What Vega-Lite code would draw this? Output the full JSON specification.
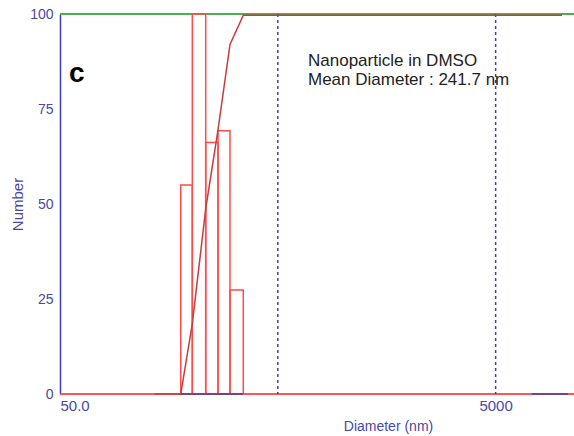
{
  "$schema": "https://vega.github.io/schema/vega-lite/v6.json",
  "width": 514,
  "height": 380,
  "autosize": "none",
  "padding": {"left": 60, "top": 14, "right": 0, "bottom": 42},
  "background": "white",
  "config": {"view": {"stroke": null}, "font": "Liberation Sans"},
  "datasets": {
    "bars": [
      {"lo": 179.2, "hi": 202.5, "n": 55},
      {"lo": 202.5, "hi": 233.3, "n": 100},
      {"lo": 233.3, "hi": 265.7, "n": 66.2},
      {"lo": 265.7, "hi": 301.6, "n": 69.3},
      {"lo": 301.6, "hi": 347.1, "n": 27.4}
    ],
    "cum": [
      {"d": 136, "p": 0},
      {"d": 179.2, "p": 0},
      {"d": 202.5, "p": 18.5},
      {"d": 233.3, "p": 48.7},
      {"d": 265.7, "p": 69.5},
      {"d": 301.6, "p": 92},
      {"d": 347.1, "p": 99.7},
      {"d": 10080, "p": 99.7}
    ],
    "grid": [{"d": 500}, {"d": 5000}],
    "seg": [
      {"d": 179.2, "y": 0, "g": 1},
      {"d": 347.1, "y": 0, "g": 1},
      {"d": 7324, "y": 0, "g": 2},
      {"d": 10745, "y": 0, "g": 2}
    ],
    "notes": [
      {"d": 688, "y": 86.4, "t": "Nanoparticle in DMSO"},
      {"d": 688, "y": 81.2, "t": "Mean Diameter : 241.7 nm"}
    ],
    "tag": [{"d": 55, "y": 82, "t": "c"}]
  },
  "layer": [
    {
      "data": {"name": "grid"},
      "mark": {"type": "rule", "color": "#ff4a4a", "strokeWidth": 1.5},
      "encoding": {
        "y": {
          "datum": 0,
          "type": "quantitative",
          "scale": {"domain": [0, 100], "nice": false, "zero": false},
          "axis": {
            "values": [0, 25, 50, 75, 100],
            "domainColor": "#3c3cb0",
            "domainWidth": 1.5,
            "ticks": false,
            "grid": false,
            "labelColor": "#4848a8",
            "labelFontSize": 14,
            "labelPadding": 7,
            "titleColor": "#4848a8",
            "titleFontSize": 15,
            "titleFontWeight": "normal",
            "titleX": -35,
            "titleY": 190
          },
          "title": "Number"
        }
      }
    },
    {
      "data": {"name": "grid"},
      "mark": {"type": "rule", "color": "#4caf50", "strokeWidth": 2},
      "encoding": {"y": {"datum": 100, "type": "quantitative"}}
    },
    {
      "data": {"name": "grid"},
      "mark": {"type": "rule", "color": "#3c3cb0", "strokeWidth": 1.5, "strokeDash": [3, 3]},
      "encoding": {
        "x": {
          "field": "d",
          "type": "quantitative",
          "scale": {"type": "log", "domain": [50, 11450], "nice": false},
          "axis": {
            "values": [50, 5000],
            "labelExpr": "datum.value == 50 ? '50.0' : '5000'",
            "domain": false,
            "ticks": false,
            "grid": false,
            "labelFlush": true,
            "labelPadding": 4,
            "labelFontSize": 15,
            "labelColor": "#4848a8",
            "titleColor": "#4848a8",
            "titleFontSize": 14,
            "titleFontWeight": "normal",
            "titleX": 328,
            "titleY": 25
          },
          "title": "Diameter (nm)"
        }
      }
    },
    {
      "data": {"name": "bars"},
      "mark": {"type": "rect", "fillOpacity": 0, "fill": "white", "stroke": "#ff4a4a", "strokeWidth": 1.5},
      "encoding": {
        "x": {"field": "lo", "type": "quantitative", "title": "Diameter (nm)"},
        "x2": {"field": "hi"},
        "y": {"field": "n", "type": "quantitative", "title": "Number"},
        "y2": {"datum": 0}
      }
    },
    {
      "data": {"name": "cum"},
      "mark": {"type": "line", "color": "#c83c3c", "strokeWidth": 1.5},
      "encoding": {
        "x": {"field": "d", "type": "quantitative", "title": "Diameter (nm)"},
        "y": {"field": "p", "type": "quantitative", "title": "Number"}
      }
    },
    {
      "data": {"name": "seg"},
      "mark": {"type": "line", "color": "#4040b0", "strokeWidth": 1.5},
      "encoding": {
        "x": {"field": "d", "type": "quantitative", "title": "Diameter (nm)"},
        "y": {"field": "y", "type": "quantitative", "title": "Number"},
        "detail": {"field": "g"}
      }
    },
    {
      "data": {"name": "notes"},
      "mark": {"type": "text", "align": "left", "baseline": "alphabetic", "fontSize": 17, "color": "#222222"},
      "encoding": {
        "x": {"field": "d", "type": "quantitative", "title": "Diameter (nm)"},
        "y": {"field": "y", "type": "quantitative", "title": "Number"},
        "text": {"field": "t"}
      }
    },
    {
      "data": {"name": "tag"},
      "mark": {"type": "text", "align": "left", "baseline": "alphabetic", "fontSize": 28, "fontWeight": "bold", "color": "#000000"},
      "encoding": {
        "x": {"field": "d", "type": "quantitative", "title": "Diameter (nm)"},
        "y": {"field": "y", "type": "quantitative", "title": "Number"},
        "text": {"field": "t"}
      }
    }
  ]
}
